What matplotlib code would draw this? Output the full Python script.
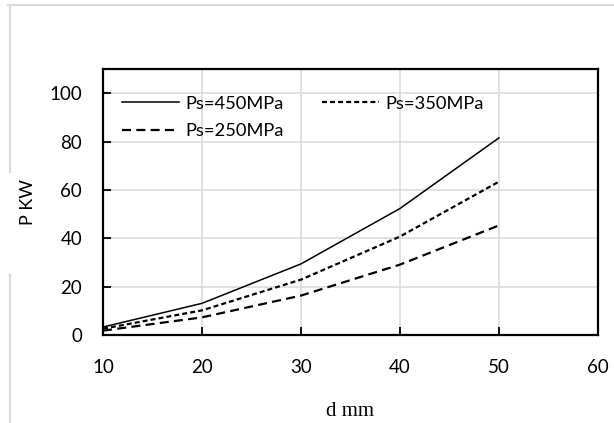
import matplotlib
matplotlib.use("Agg")
import matplotlib.pyplot as plt
from matplotlib.lines import Line2D

# d in mm, power in kW for each supply pressure
d_mm = [10, 20, 30, 40, 50]
p_450 = [3.3, 13.1, 29.4, 52.3, 81.5]
p_350 = [2.6, 10.2, 22.9, 40.7, 63.4]
p_250 = [1.8, 7.3, 16.3, 29.1, 45.3]
labels = ["Ps=450MPa", "Ps=350MPa", "Ps=250MPa"]
xticks = [10, 20, 30, 40, 50, 60]
yticks = [0, 20, 40, 60, 80, 100]

plt.rcParams['font.family'] = ['Lato', 'DejaVu Sans']
plt.rcParams['lines.scale_dashes'] = False

fig = plt.figure(figsize=(6.14, 4.23), dpi=100)
ax = fig.add_axes([0.1678, 0.208, 0.806, 0.629])

l1, = ax.plot(d_mm, p_450, color='black', lw=1.1, label=labels[0])
l2, = ax.plot(d_mm, p_350, color='black', lw=1.6, dashes=(3.6, 2.2), label=labels[1])
l3, = ax.plot(d_mm, p_250, color='black', lw=1.6, dashes=(6.5, 3.8), label=labels[2])

ax.set_xlim(10, 60)
ax.set_ylim(0, 110)
ax.set_xticks(xticks)
ax.set_yticks(yticks)
ax.grid(True, color='#d9d9d9', lw=1.1)
ax.set_axisbelow(True)
for s in ax.spines.values():
    s.set_linewidth(1.6)
    s.set_color('black')
ax.tick_params(direction='in', length=6, width=1.3, labelsize=13.5, pad=15)
ax.tick_params(axis='x', pad=17)

ax.set_ylabel('P KW', fontsize=13)
ax.yaxis.set_label_coords(-0.135, 0.5)
ax.set_xlabel('d mm', fontsize=15, family='Liberation Serif')
ax.xaxis.set_label_coords(0.5, -0.25)

# column-wise fill: 450 and 250 in the first column, 350 in the second
ax.legend([l1, l3, l2], [labels[0], labels[2], labels[1]],
          loc='upper left', ncol=2, frameon=False, fontsize=13.2,
          handlelength=3.1, handletextpad=0.35, columnspacing=2.1,
          labelspacing=0.62, bbox_to_anchor=(0.005, 0.962))

# light chart-area border like the spreadsheet export
fig.add_artist(Line2D([8/614, 1], [1-5/423, 1-5/423], color='#d9d9d9', lw=1.5))
fig.add_artist(Line2D([10/614, 10/614], [1-5/423, 1-172/423], color='#d9d9d9', lw=1.5))
fig.add_artist(Line2D([10/614, 10/614], [1-275/423, 0], color='#d9d9d9', lw=1.5))

fig.savefig('out.png', dpi=100)
